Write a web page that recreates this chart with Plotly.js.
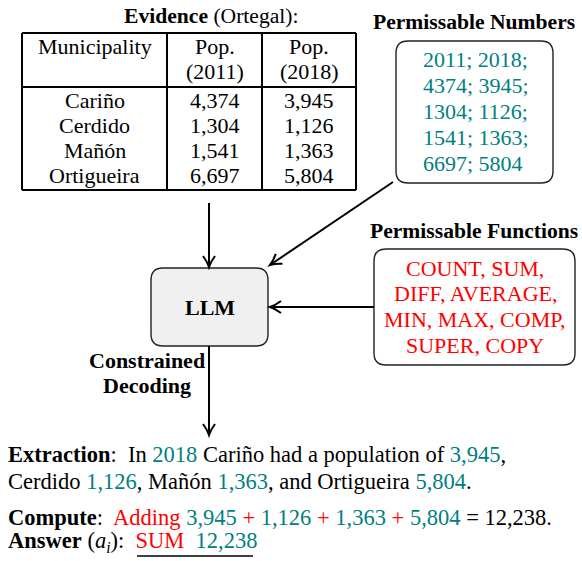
<!DOCTYPE html>
<html>
<head>
<meta charset="utf-8">
<script src="https://cdn.plot.ly/plotly-3.0.1.min.js"></script>
<style>html,body{margin:0;padding:0;background:#fff;}</style>
</head>
<body>
<div id="chart" style="width:582px;height:561px;"></div>
<script>
// ---- data ----
const municipalities = ['Cariño', 'Cerdido', 'Mañón', 'Ortigueira'];
const pop2011 = [4374, 1304, 1541, 6697];
const pop2018 = [3945, 1126, 1363, 5804];
const years = [2011, 2018];
const functionsList = ['COUNT', 'SUM', 'DIFF', 'AVERAGE', 'MIN', 'MAX', 'COMP', 'SUPER', 'COPY'];
const answerFn = 'SUM';
const answerValue = 12238;

// ---- style ----
const FONT = '"Liberation Serif", "Times New Roman", Times, serif';
const FS = 22;
const FS_TITLE = 21.6;
const FS_BODY = 22.5;
const TEAL = '#008080';
const RED = '#ff0000';
const fmt = v => v.toLocaleString('en-US');
const teal = s => `<span style="color:${TEAL}">${s}</span>`;
const red = s => `<span style="color:${RED}">${s}</span>`;
const NB = '\u00a0';
const EN = '\u2002';

const ann = [];
function txt(x, y, text, opts = {}, size = FS) {
  ann.push(Object.assign({
    x, y, xref: 'x', yref: 'y', text, showarrow: false,
    xanchor: 'center', yanchor: 'middle',
    font: {family: FONT, size: size, color: '#000'}
  }, opts));
}
const shapes = [];
function line(x0, y0, x1, y1, w = 2) {
  shapes.push({type: 'line', xref: 'x', yref: 'y', x0, y0, x1, y1, line: {color: '#000', width: w}});
}
function rrect(x0, y0, x1, y1, r, fill, w = 1.4) {
  const p = `M${x0 + r},${y0} L${x1 - r},${y0} Q${x1},${y0} ${x1},${y0 + r} L${x1},${y1 - r} Q${x1},${y1} ${x1 - r},${y1} L${x0 + r},${y1} Q${x0},${y1} ${x0},${y1 - r} L${x0},${y0 + r} Q${x0},${y0} ${x0 + r},${y0} Z`;
  shapes.push({type: 'path', xref: 'x', yref: 'y', path: p, fillcolor: fill, line: {color: '#222', width: w}});
}
function arrow(fx, fy, tx, ty) {
  line(fx, fy, tx, ty, 2);
  const L = Math.hypot(tx - fx, ty - fy);
  const dx = (tx - fx) / L, dy = (ty - fy) / L;
  const len = 11, wd = 6;
  const bx = tx - dx * len, by = ty - dy * len;
  const px = -dy * wd, py = dx * wd;
  const cx = tx - dx * len * 0.45, cy = ty - dy * len * 0.45;
  shapes.push({type: 'path', xref: 'x', yref: 'y',
    path: `M${bx + px},${by + py} Q${cx + px * 0.25},${cy + py * 0.25} ${tx},${ty} Q${cx - px * 0.25},${cy - py * 0.25} ${bx - px},${by - py}`,
    line: {color: '#000', width: 2}});
}

// ---- Evidence table ----
txt(211, 16, '<b>Evidence</b> (Ortegal):', {}, FS_TITLE);
const tL = 22, c1 = 167, c2 = 262, tR = 356, tT = 33, tH = 87, tB = 190;
line(tL, tT, tR, tT, 2); line(tL, tB, tR, tB, 2); line(tL, tH, tR, tH, 2);
line(tL, tT, tL, tB, 2); line(c1, tT, c1, tB, 2); line(c2, tT, c2, tB, 2); line(tR, tT, tR, tB, 2);
const colX = [(tL + c1) / 2, (c1 + c2) / 2, (c2 + tR) / 2];
txt(colX[0], 46, 'Municipality');
txt(colX[1], 46, 'Pop.'); txt(colX[1], 71, `(${years[0]})`);
txt(colX[2], 46, 'Pop.'); txt(colX[2], 71, `(${years[1]})`);
municipalities.forEach((m, i) => {
  const y = 100 + i * 25;
  txt(colX[0], y, m);
  txt(colX[1], y, fmt(pop2011[i]));
  txt(colX[2], y, fmt(pop2018[i]));
});

// ---- Permissable Numbers ----
txt(474, 22, '<b>Permissable Numbers</b>', {}, FS_TITLE);
rrect(396, 41, 553, 183, 12, 'rgba(0,0,0,0)');
const numLines = [years.map(String)];
pop2011.forEach((v, i) => numLines.push([String(v), String(pop2018[i])]));
numLines.forEach((pair, i) => {
  const s = pair.join('; ') + (i < numLines.length - 1 ? ';' : '');
  txt(421, 59 + i * 26, teal(s), {xanchor: 'left'});
});

// ---- Permissable Functions ----
txt(474, 231, '<b>Permissable Functions</b>', {}, FS_TITLE);
rrect(374, 249, 575, 365, 12, 'rgba(0,0,0,0)');
const groups = [2, 2, 3, 2];
let k = 0;
groups.forEach((g, i) => {
  const s = functionsList.slice(k, k + g).join(', ') + (i < groups.length - 1 ? ',' : '');
  k += g;
  txt(475, 268 + i * 25.7, red(s));
});

// ---- LLM ----
rrect(151, 268, 268, 346, 12, '#f0f0f0');
txt(209.5, 307, '<b>LLM</b>');
arrow(209, 203, 209, 267);
arrow(393, 182, 270, 265);
arrow(374, 307, 270, 307);
arrow(209, 346, 209, 435);
txt(147, 360, '<b>Constrained</b>');
txt(147, 385, '<b>Decoding</b>');

// ---- bottom text ----
const line1 = `<b>Extraction</b>:${NB} In ${teal(years[1])} ${municipalities[0]} had a population of ${teal(fmt(pop2018[0]))},`;
const line2 = `${municipalities[1]} ${teal(fmt(pop2018[1]))}, ${municipalities[2]} ${teal(fmt(pop2018[2]))}, and ${municipalities[3]} ${teal(fmt(pop2018[3]))}.`;
const line3 = `<b>Compute</b>:${NB} ${red('Adding')} ` + pop2018.map(v => teal(fmt(v))).join(` ${red('+')} `) + ` = ${fmt(answerValue)}.`;
const line4 = `<b>Answer</b> (<i>a</i><sub><i>i</i></sub>):${NB} ${red(answerFn)}${EN}${teal(fmt(answerValue))}`;
txt(6, 454, line1, {xanchor: 'left'}, FS_BODY);
txt(6, 481, line2, {xanchor: 'left'}, FS_BODY);
txt(6, 517, line3, {xanchor: 'left'}, FS_BODY);
txt(6, 542, line4, {xanchor: 'left'}, FS_BODY);
line(137, 556, 253, 556, 1.3);

const layout = {
  width: 582, height: 561,
  margin: {l: 0, r: 0, t: 0, b: 0},
  paper_bgcolor: '#fff', plot_bgcolor: '#fff',
  xaxis: {range: [0, 582], visible: false, fixedrange: true},
  yaxis: {range: [561, 0], visible: false, fixedrange: true},
  showlegend: false,
  shapes, annotations: ann
};
Plotly.newPlot('chart', [], layout, {staticPlot: true, displayModeBar: false});
</script>
</body>
</html>
